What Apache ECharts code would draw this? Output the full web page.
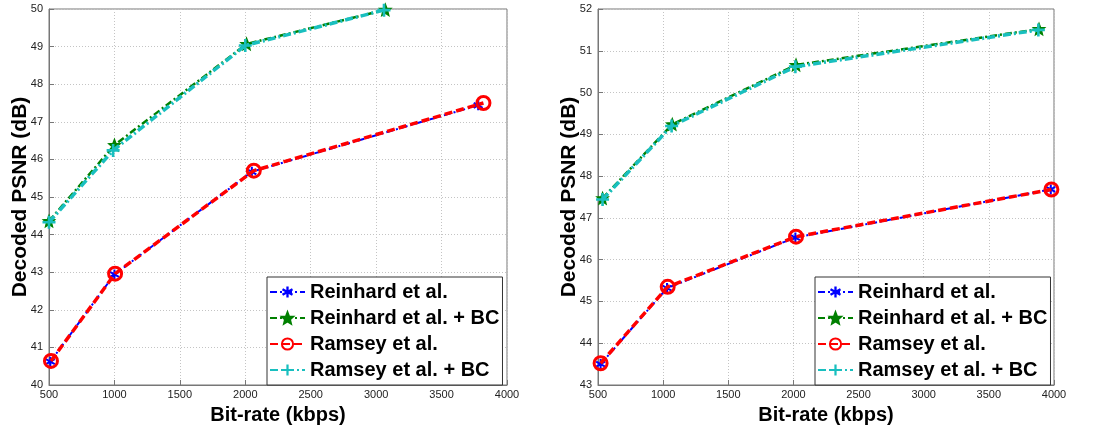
<!DOCTYPE html>
<html>
<head>
<meta charset="utf-8">
<script src="https://cdn.jsdelivr.net/npm/echarts@6/dist/echarts.min.js"></script>
<style>
    html, body { margin: 0; padding: 0; background: #fff; }
    #chart { width: 1100px; height: 430px; }
</style>
</head>
<body>
<div id="chart"></div>
<script>
'use strict';

// ---------------- data ----------------
const seriesNames = ['Reinhard et al.', 'Reinhard et al. + BC', 'Ramsey et al.', 'Ramsey et al. + BC'];
const xTicks = [500, 1000, 1500, 2000, 2500, 3000, 3500, 4000];

// left panel
const leftReinhardX = [510, 1000, 2050, 3780];
const leftReinhardY = [40.62, 42.94, 45.67, 47.44];
const leftReinhardBcX = [500, 1000, 2010, 3070];
const leftReinhardBcY = [44.36, 46.38, 49.07, 49.98];
const leftRamseyX = [515, 1005, 2065, 3820];
const leftRamseyY = [40.64, 42.96, 45.70, 47.50];
const leftRamseyBcX = [500, 990, 2000, 3060];
const leftRamseyBcY = [44.33, 46.24, 49.03, 49.97];
const leftYTicks = [40, 41, 42, 43, 44, 45, 46, 47, 48, 49, 50];

// right panel
const rightReinhardX = [520, 1030, 2015, 3975];
const rightReinhardY = [43.50, 45.32, 46.53, 47.68];
const rightReinhardBcX = [535, 1070, 2020, 3885];
const rightReinhardBcY = [47.47, 49.24, 50.66, 51.52];
const rightRamseyX = [520, 1035, 2020, 3980];
const rightRamseyY = [43.52, 45.35, 46.55, 47.68];
const rightRamseyBcX = [535, 1065, 2015, 3880];
const rightRamseyBcY = [47.44, 49.20, 50.62, 51.50];
const rightYTicks = [43, 44, 45, 46, 47, 48, 49, 50, 51, 52];

// ---------------- styles ----------------
const FONT = '"Liberation Sans", Arial, sans-serif';

// matlab-ish markers
const SYM_ASTERISK = 'path://M4 0H6V10H4Z M1.17 8.37L0.17 6.63L8.83 1.63L9.83 3.37Z M0.17 3.37L1.17 1.63L9.83 6.63L8.83 8.37Z';
const SYM_STAR = 'path://M5 0L6.29 3.22L9.76 3.45L7.09 5.68L7.94 9.05L5 7.2L2.06 9.05L2.91 5.68L0.24 3.45L3.71 3.22Z';
const SYM_PLUS = 'path://M4 0H6V4H10V6H6V10H4V6H0V4H4Z';

const styles = [
    { color: '#0000ff', width: 2, dash: [7, 3, 2, 3], symbol: SYM_ASTERISK, size: 10,
      item: { color: '#0000ff' } },
    { color: '#008000', width: 2.5, dash: [7, 3, 2, 3], symbol: SYM_STAR, size: 11,
      item: { color: '#008000', borderColor: '#008000', borderWidth: 1.5 } },
    { color: '#ff0000', width: 3.5, dash: [8, 4], symbol: 'circle', size: 13,
      item: { color: 'rgba(255,255,255,0)', borderColor: '#ff0000', borderWidth: 3 } },
    { color: '#19bfbf', width: 3.5, dash: [8, 3, 2, 3], symbol: SYM_PLUS, size: 13,
      item: { color: '#19bfbf' } }
];

function zip(xs, ys) {
    return xs.map((x, i) => [x, ys[i]]);
}

function buildSeries(gridIdx, panels) {
    return panels.map((p, i) => ({
        name: seriesNames[i],
        type: 'line',
        xAxisIndex: gridIdx,
        yAxisIndex: gridIdx,
        data: zip(p[0], p[1]),
        symbol: styles[i].symbol,
        symbolSize: styles[i].size,
        showAllSymbol: true,
        lineStyle: { color: styles[i].color, width: styles[i].width, type: styles[i].dash },
        itemStyle: styles[i].item,
        z: 2 + i,
        animation: false
    }));
}

function buildXAxis(gridIdx) {
    return {
        type: 'value',
        gridIndex: gridIdx,
        min: xTicks[0],
        max: xTicks[xTicks.length - 1],
        interval: 500,
        name: 'Bit-rate (kbps)',
        nameLocation: 'middle',
        nameGap: 20,
        nameTextStyle: { fontFamily: FONT, fontWeight: 'bold', fontSize: 20, color: '#000' },
        axisLine: { lineStyle: { color: '#777' } },
        axisTick: { inside: true, length: 5, lineStyle: { color: '#777' } },
        axisLabel: { fontFamily: FONT, fontSize: 11, color: '#222', margin: 4, formatter: v => String(v) },
        splitLine: { lineStyle: { color: '#c4c4c4', type: [1, 2] } }
    };
}

function buildYAxis(gridIdx, ticks) {
    return {
        type: 'value',
        gridIndex: gridIdx,
        min: ticks[0],
        max: ticks[ticks.length - 1],
        interval: 1,
        name: 'Decoded PSNR (dB)',
        nameLocation: 'middle',
        nameGap: 18,
        nameMoveOverlap: false,
        nameTextStyle: { fontFamily: FONT, fontWeight: 'bold', fontSize: 21, color: '#000' },
        axisLine: { lineStyle: { color: '#777' } },
        axisTick: { inside: true, length: 5, lineStyle: { color: '#777' } },
        axisLabel: { fontFamily: FONT, fontSize: 11, color: '#222', margin: 6 },
        splitLine: { lineStyle: { color: '#c4c4c4', type: [1, 2] } }
    };
}

function buildLegend(left) {
    return {
        left: left,
        top: 277,
        orient: 'vertical',
        data: seriesNames,
        backgroundColor: '#fff',
        borderColor: '#333',
        borderWidth: 1,
        borderRadius: 0,
        padding: [5, 3, 5, 2],
        itemWidth: 35,
        itemHeight: 14,
        itemGap: 6,
        selectedMode: false,
        textStyle: { fontFamily: FONT, fontWeight: 'bold', fontSize: 20, lineHeight: 20, color: '#000' }
    };
}

const chart = echarts.init(document.getElementById('chart'), null, { renderer: 'canvas' });

chart.setOption({
    backgroundColor: '#fff',
    animation: false,
    grid: [
        { left: 49, top: 9, width: 458, height: 379, show: true, borderColor: '#777', borderWidth: 1 },
        { left: 598, top: 9, width: 456, height: 379, show: true, borderColor: '#777', borderWidth: 1 }
    ],
    xAxis: [buildXAxis(0), buildXAxis(1)],
    yAxis: [buildYAxis(0, leftYTicks), buildYAxis(1, rightYTicks)],
    legend: [buildLegend(267), buildLegend(815)],
    series: [].concat(
        buildSeries(0, [
            [leftReinhardX, leftReinhardY],
            [leftReinhardBcX, leftReinhardBcY],
            [leftRamseyX, leftRamseyY],
            [leftRamseyBcX, leftRamseyBcY]
        ]),
        buildSeries(1, [
            [rightReinhardX, rightReinhardY],
            [rightReinhardBcX, rightReinhardBcY],
            [rightRamseyX, rightRamseyY],
            [rightRamseyBcX, rightRamseyBcY]
        ])
    )
});
</script>
</body>
</html>
